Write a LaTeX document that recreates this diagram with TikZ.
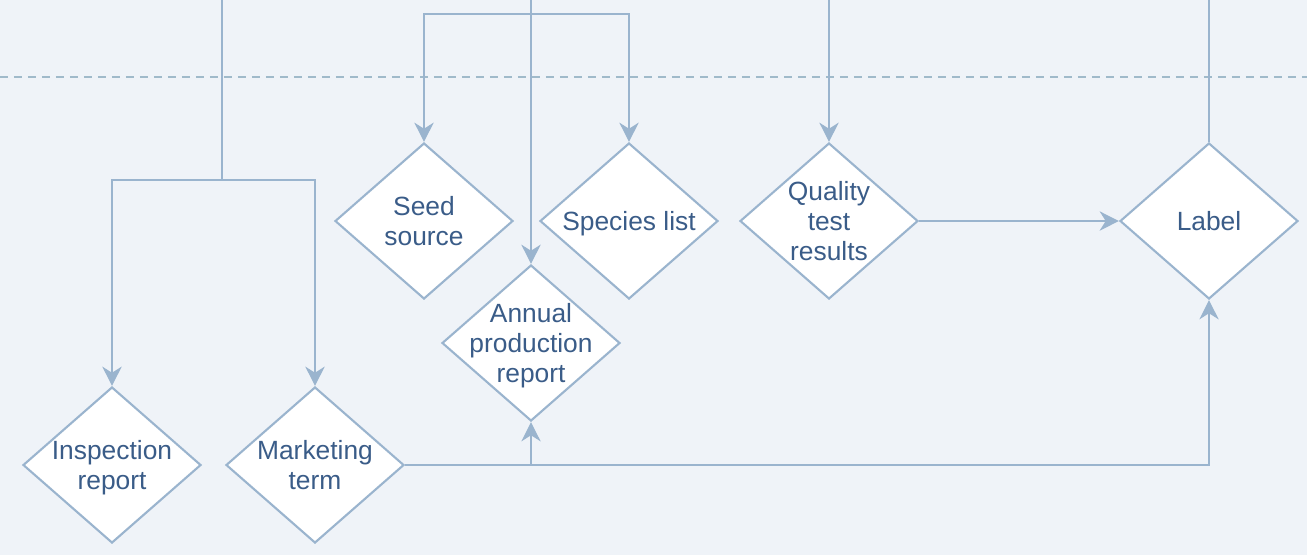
\documentclass[tikz,border=0pt]{standalone}
\usepackage{fontspec}
\setmainfont{Liberation Sans}
\usetikzlibrary{shapes.geometric,arrows,arrows.meta,positioning,calc}
\definecolor{bgcol}{RGB}{239,243,248}
\definecolor{linecol}{RGB}{154,180,206}
\definecolor{dashcol}{RGB}{160,186,202}
\definecolor{txtcol}{RGB}{58,92,136}

\begin{document}
\begin{tikzpicture}[node distance=3cm,on grid,
  doc/.style={diamond,draw=linecol,line width=1.2pt,fill=white,text=txtcol,
    minimum width=3.56cm,minimum height=3.12cm,inner sep=-16pt,align=center,
    text depth=0pt,font=\fontsize{15}{17.2}\selectfont},
  flow/.style={draw=linecol,line width=0.9pt},
  >={Stealth[length=11pt,width=11pt,inset=3.5pt]}]
   \useasboundingbox[fill=bgcol] (0,0) rectangle (26.14,-11.10);
   \coordinate (top) at (0,0);
   \draw[dashcol,line width=0.85pt,dash pattern=on 0.16cm off 0.12cm] (0,-1.54) -- (26.14,-1.54);
   \node[doc] (insp) at (2.24,-9.30) {Inspection\\report};
   \node[doc] (mkt) [right=4.06cm of insp] {Marketing\\term};
   \node[doc] (seed) [above right=4.88cm and 2.18cm of mkt] {Seed\\source};
   \node[doc] (spec) [right=4.10cm of seed] {Species list};
   \node[doc] (annual) [below right=2.44cm and 2.14cm of seed] {Annual\\production\\report};
   \node[doc] (qual) [right=4.0cm of spec] {Quality\\test\\results};
   \node[doc] (lbl) [right=7.6cm of qual] {Label};
   \coordinate (in1) at (4.44,0);
   \coordinate (split1) at (4.44,-3.60);
   \coordinate (split2) at ($(annual |- top)+(0,-0.28)$);
   \coordinate (join) at (annual |- mkt.east);
   \draw[flow,->] (in1) -- (split1) -| (insp.north);
   \draw[flow,->] (split1) -| (mkt.north);
   \draw[flow,->] (annual |- top) -- (annual.north);
   \draw[flow,->] (split2) -| (seed.north);
   \draw[flow,->] (split2) -| (spec.north);
   \draw[flow,->] (qual |- top) -- (qual.north);
   \draw[flow] (lbl.north) -- (lbl |- top);
   \draw[flow,->] (qual) -- (lbl);
   \draw[flow,->] (mkt.east) -| (lbl.south);
   \draw[flow,->] (join) -- (annual.south);
\end{tikzpicture}
\end{document}
